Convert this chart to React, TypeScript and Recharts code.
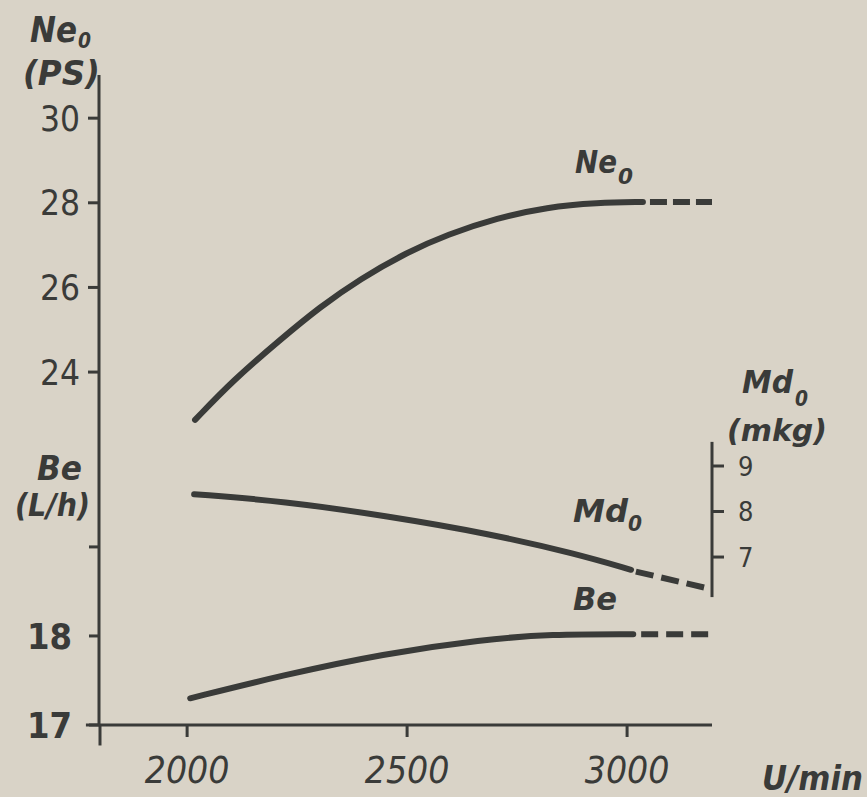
import React from 'react';
import { LineChart, Line, XAxis, YAxis, ReferenceLine } from 'recharts';

// engine speed ticks
const rpmTicks = [2000, 2500, 3000];
const neTicks = [24, 26, 28, 30];
const beTicks = [17, 18, 19];
const beTickLabels: Record<number, string> = { 17: '17', 18: '18', 19: '' };
const mdTicks = [7, 8, 9];

// Ne0 (PS)
const neSolid = [
  { rpm: 2018, v: 22.87 },
  { rpm: 2105, v: 23.81 },
  { rpm: 2211, v: 24.76 },
  { rpm: 2302, v: 25.54 },
  { rpm: 2393, v: 26.2 },
  { rpm: 2500, v: 26.83 },
  { rpm: 2591, v: 27.25 },
  { rpm: 2705, v: 27.64 },
  { rpm: 2818, v: 27.9 },
  { rpm: 2932, v: 28.0 },
  { rpm: 3036, v: 28.02 },
];
const neDashed = [
  { rpm: 3052, v: 28.02 },
  { rpm: 3193, v: 28.02 },
];

// Md0 (mkg)
const mdSolid = [
  { rpm: 2016, v: 8.38 },
  { rpm: 2218, v: 8.23 },
  { rpm: 2455, v: 7.9 },
  { rpm: 2689, v: 7.51 },
  { rpm: 2884, v: 7.07 },
  { rpm: 3009, v: 6.72 },
];
const mdDashed = [
  { rpm: 3020, v: 6.68 },
  { rpm: 3180, v: 6.32 },
];

// Be (L/h)
const beSolid = [
  { rpm: 2007, v: 17.3 },
  { rpm: 2218, v: 17.56 },
  { rpm: 2445, v: 17.8 },
  { rpm: 2673, v: 17.96 },
  { rpm: 2825, v: 18.02 },
  { rpm: 3014, v: 18.02 },
];
const beDashed = [
  { rpm: 3032, v: 18.02 },
  { rpm: 3189, v: 18.02 },
];

const rpmDomain = [1802, 3193];
const neDomain = [15.66, 31.02];
const beDomain = [17, 24.3];
const mdDomain = [3.31, 17.59];

const INK = '#3a3b39';
const PAPER = '#d9d3c7';
const labelFont = "'DejaVu Sans Condensed', 'DejaVu Sans', sans-serif";
const tickFont = "'DejaVu Sans Condensed', 'DejaVu Sans', sans-serif";

const labels = [
  { t: 'Ne', x: 30, y: 42, size: 36, w: 47 },
  { t: '0', x: 78, y: 48, size: 21, w: 13 },
  { t: '(PS)', x: 23, y: 85, size: 33, w: 77 },
  { t: 'Be', x: 37, y: 480, size: 34, w: 45 },
  { t: '(L/h)', x: 15, y: 516, size: 32, w: 75 },
  { t: 'Md', x: 742, y: 393, size: 32, w: 51 },
  { t: '0', x: 795, y: 406, size: 22, w: 13 },
  { t: '(mkg)', x: 727, y: 441, size: 30, w: 100 },
  { t: 'U/min', x: 762, y: 790, size: 34, w: 101 },
  { t: 'Ne', x: 575, y: 173, size: 32, w: 42 },
  { t: '0', x: 618, y: 184, size: 21, w: 15 },
  { t: 'Md', x: 573, y: 522, size: 32, w: 55 },
  { t: '0', x: 628, y: 531, size: 21, w: 14 },
  { t: 'Be', x: 573, y: 610, size: 32, w: 44 },
];

const NeTick = (props: any) => {
  const { x, y, payload } = props;
  return (
    <text x={x} y={y} dy="0.36em" textAnchor="end" fontFamily={tickFont} fontSize={35} fill={INK}>
      {payload.value}
    </text>
  );
};

const BeTick = (props: any) => {
  const { x, y, payload } = props;
  return (
    <text x={x} y={y} dy="0.36em" textAnchor="end" fontFamily={tickFont} fontWeight={700} fontSize={36} fill={INK}>
      {beTickLabels[payload.value]}
    </text>
  );
};

const MdTick = (props: any) => {
  const { x, y, payload } = props;
  return (
    <text x={x} y={y} dy="0.36em" textAnchor="start" fontFamily={tickFont} fontSize={27} fill={INK}>
      {payload.value}
    </text>
  );
};

const RpmTick = (props: any) => {
  const { x, y, payload } = props;
  return (
    <text x={x} y={y} dy="0.71em" textAnchor="middle" fontFamily={tickFont} fontStyle="oblique" fontSize={37} fill={INK}>
      {payload.value}
    </text>
  );
};

const App: React.FC = () => {
  const axisLine = { stroke: INK, strokeWidth: 3 };
  const tickLine = { stroke: INK, strokeWidth: 3 };
  return (
    <div style={{ position: 'absolute', left: 0, top: 0, width: 867, height: 797, background: PAPER }}>
      <LineChart width={867} height={797} margin={{ top: 75, right: 154, bottom: 71, left: 98 }}>
        <XAxis
          type="number"
          dataKey="rpm"
          domain={rpmDomain}
          ticks={rpmTicks}
          allowDataOverflow
          height={1}
          axisLine={axisLine}
          tickLine={tickLine}
          tickSize={12}
          tickMargin={20}
          tick={<RpmTick />}
        />
        <YAxis
          yAxisId="be"
          type="number"
          domain={beDomain}
          ticks={beTicks}
          allowDataOverflow
          width={1}
          axisLine={false}
          tickLine={tickLine}
          tickSize={11}
          tickMargin={17}
          tick={<BeTick />}
        />
        <YAxis
          yAxisId="ne"
          type="number"
          domain={neDomain}
          ticks={neTicks}
          allowDataOverflow
          width={1}
          axisLine={axisLine}
          tickLine={tickLine}
          tickSize={11}
          tickMargin={8}
          tick={<NeTick />}
        />
        <YAxis
          yAxisId="md"
          orientation="right"
          type="number"
          domain={mdDomain}
          ticks={mdTicks}
          allowDataOverflow
          width={1}
          axisLine={false}
          tickLine={tickLine}
          tickSize={12}
          tickMargin={14}
          tick={<MdTick />}
        />

        {/* axis details: partial Md axis, axis overhangs */}
        <ReferenceLine
          yAxisId="md"
          segment={[{ x: 3193, y: 6.12 }, { x: 3193, y: 9.53 }]}
          stroke={INK}
          strokeWidth={3}
          ifOverflow="visible"
        />
        <ReferenceLine
          yAxisId="be"
          segment={[{ x: 1802, y: 16.77 }, { x: 1802, y: 17 }]}
          stroke={INK}
          strokeWidth={3}
          ifOverflow="visible"
        />
        <ReferenceLine
          yAxisId="be"
          segment={[{ x: 1770, y: 17 }, { x: 1802, y: 17 }]}
          stroke={INK}
          strokeWidth={3}
          ifOverflow="visible"
        />

        <Line data={neSolid} dataKey="v" yAxisId="ne" type="basis" stroke={INK} strokeWidth={6} dot={false} strokeLinecap="round" isAnimationActive={false} />
        <Line data={neDashed} dataKey="v" yAxisId="ne" type="linear" stroke={INK} strokeWidth={6} dot={false} strokeDasharray="17 6" isAnimationActive={false} />
        <Line data={mdSolid} dataKey="v" yAxisId="md" type="basis" stroke={INK} strokeWidth={6} dot={false} strokeLinecap="round" isAnimationActive={false} />
        <Line data={mdDashed} dataKey="v" yAxisId="md" type="linear" stroke={INK} strokeWidth={6} dot={false} strokeDasharray="18 8" isAnimationActive={false} />
        <Line data={beSolid} dataKey="v" yAxisId="be" type="basis" stroke={INK} strokeWidth={6} dot={false} strokeLinecap="round" isAnimationActive={false} />
        <Line data={beDashed} dataKey="v" yAxisId="be" type="linear" stroke={INK} strokeWidth={6} dot={false} strokeDasharray="17 8" isAnimationActive={false} />
      </LineChart>

      <svg width={867} height={797} style={{ position: 'absolute', left: 0, top: 0, pointerEvents: 'none' }}>
        {labels.map((l, i) => (
          <text
            key={i}
            x={l.x}
            y={l.y}
            fontFamily={labelFont}
            fontWeight={700}
            fontStyle="oblique"
            fontSize={l.size}
            textLength={l.w}
            lengthAdjust="spacingAndGlyphs"
            fill={INK}
          >
            {l.t}
          </text>
        ))}
      </svg>
    </div>
  );
};

export default App;
